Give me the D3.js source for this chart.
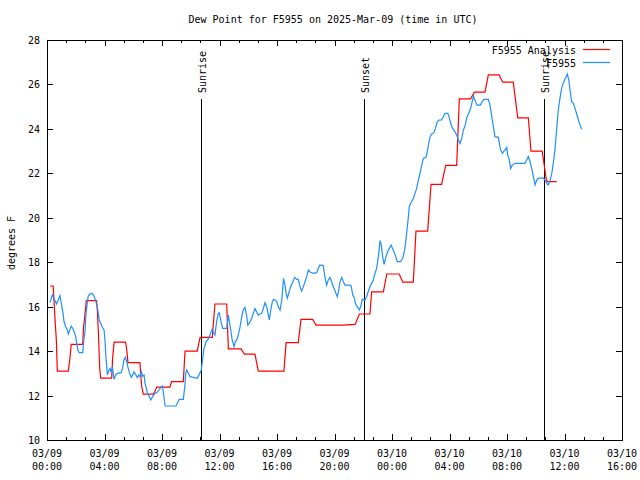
<!DOCTYPE html>
<html>
<head>
<meta charset="utf-8">
<script src="https://cdn.jsdelivr.net/npm/d3@7/dist/d3.min.js"></script>
<style>
  body { margin: 0; background: #fff; }
  svg text { font-family: "DejaVu Sans Mono", monospace; font-size: 10px; fill: #000; }
</style>
</head>
<body>
<svg id="chart" width="640" height="480"></svg>
<script>
// times are minutes since 2025-03-09 00:00 UTC
const startTime = Date.UTC(2025, 2, 9, 0, 0);
const endMinutes = 40 * 60;

const analysisMinutes = [13, 26, 33, 39, 43, 89, 96, 101, 149, 152, 157, 164, 207, 210, 214, 220, 224, 270, 274, 280,
  328, 333, 338, 388, 391, 395, 402, 444, 451, 458, 513, 520, 569, 576, 627, 639, 690, 701, 750, 757,
  810, 824, 868, 882, 989, 998, 1049, 1060, 1109, 1123, 1234, 1286, 1304, 1348, 1355, 1404, 1418, 1470, 1485, 1529,
  1540, 1589, 1603, 1647, 1664, 1710, 1721, 1768, 1784, 1828, 1842, 1887, 1902, 1946, 1965, 2009, 2020, 2067, 2083, 2088, 2127];
const analysisValues = [16.93, 16.93, 15.5, 14.5, 13.1, 13.1, 13.7, 14.3, 14.3, 15.0, 15.5, 16.27, 16.27, 15.85, 14.95, 13.25, 12.78, 12.78, 13.7, 14.4,
  14.4, 14.05, 13.48, 13.48, 13.0, 12.43, 12.06, 12.06, 12.2, 12.38, 12.38, 12.63, 12.63, 14.0, 14.0, 14.62, 14.62, 16.12, 16.12, 14.1,
  14.1, 13.86, 13.86, 13.1, 13.1, 14.38, 14.38, 15.43, 15.43, 15.17, 15.17, 15.2, 15.67, 15.67, 16.67, 16.67, 17.47, 17.47, 17.1, 17.1,
  19.4, 19.4, 21.5, 21.5, 22.36, 22.36, 25.35, 25.35, 25.65, 25.65, 26.43, 26.43, 26.1, 26.1, 24.5, 24.5, 23.0, 23.0, 21.78, 21.63, 21.63];

const obsMinutes = [13, 22, 26, 40, 47, 54, 57, 61, 67, 71, 78, 85, 89, 96, 101, 107, 113, 120, 124, 129,
  134, 149, 154, 159, 163, 168, 172, 179, 189, 196, 203, 210, 214, 218, 224, 231, 238, 242, 246, 252,
  259, 263, 267, 273, 280, 287, 293, 310, 316, 321, 327, 333, 338, 345, 352, 358, 363, 371, 377, 383,
  388, 394, 399, 405, 409, 413, 419, 426, 433, 441, 450, 460, 467, 475, 481, 485, 493, 538, 544, 552,
  569, 575, 579, 583, 590, 597, 627, 636, 644, 649, 655, 664, 673, 683, 689, 694, 701, 708, 715, 719,
  725, 733, 750, 757, 761, 767, 773, 781, 786, 792, 800, 806, 813, 819, 826, 834, 838, 844, 854, 861,
  868, 875, 882, 889, 896, 903, 910, 917, 924, 928, 934, 939, 945, 952, 959, 965, 973, 980, 987, 992,
  998, 1003, 1009, 1017, 1026, 1034, 1042, 1049, 1056, 1063, 1070, 1077, 1084, 1091, 1098, 1112, 1126, 1132, 1139, 1153,
  1160, 1167, 1174, 1181, 1188, 1198, 1206, 1212, 1218, 1223, 1230, 1237, 1244, 1265, 1270, 1276, 1283, 1287, 1295, 1304,
  1311, 1316, 1327, 1334, 1343, 1351, 1362, 1369, 1376, 1383, 1390, 1395, 1401, 1407, 1415, 1423, 1436, 1445, 1453, 1462,
  1476, 1485, 1494, 1501, 1507, 1512, 1518, 1529, 1536, 1543, 1550, 1557, 1564, 1571, 1582, 1587, 1592, 1599, 1606, 1615,
  1621, 1629, 1636, 1647, 1654, 1661, 1673, 1679, 1685, 1693, 1703, 1710, 1717, 1724, 1731, 1738, 1746, 1752, 1766, 1773,
  1780, 1786, 1795, 1809, 1816, 1824, 1842, 1849, 1856, 1863, 1870, 1884, 1892, 1901, 1907, 1912, 1919, 1923, 1930, 1935,
  1942, 1953, 1995, 2002, 2009, 2016, 2023, 2030, 2037, 2044, 2051, 2072, 2079, 2086, 2092, 2099, 2107, 2113, 2120, 2127,
  2134, 2141, 2148, 2155, 2162, 2172, 2178, 2183, 2190, 2197, 2204, 2211, 2218, 2225, 2232];
const obsValues = [16.18, 16.53, 16.45, 16.12, 16.3, 16.5, 16.3, 16.08, 15.7, 15.33, 15.1, 14.95, 14.77, 14.98, 15.13, 15.03, 14.88, 14.65, 14.35, 14.05,
  13.93, 13.93, 14.5, 14.95, 15.7, 16.15, 16.48, 16.57, 16.6, 16.48, 16.27, 16.0, 15.7, 15.4, 15.25, 15.07, 14.95, 14.5, 13.75, 12.93,
  13.15, 13.22, 13.07, 13.27, 12.73, 12.93, 13.0, 13.03, 13.27, 13.6, 13.72, 13.52, 13.27, 13.0, 12.82, 12.93, 13.07, 12.93, 12.8, 12.93,
  12.85, 13.07, 12.87, 12.93, 12.55, 12.4, 12.1, 11.98, 11.8, 11.95, 12.1, 12.15, 12.25, 12.37, 12.43, 12.2, 11.53, 11.53, 11.65, 11.83,
  11.83, 12.4, 13.0, 13.15, 13.0, 12.85, 12.78, 12.97, 13.15, 13.6, 14.1, 14.42, 14.55, 14.8, 14.98, 14.85, 14.73, 15.33, 15.7, 15.73,
  15.4, 15.02, 15.02, 15.62, 15.33, 14.95, 14.5, 14.2, 14.42, 14.5, 14.8, 15.1, 15.55, 15.85, 15.97, 15.55, 15.17, 15.25, 15.47, 15.7,
  15.92, 15.77, 15.62, 15.67, 15.7, 15.92, 16.18, 16.0, 15.62, 15.4, 15.85, 16.15, 16.33, 16.3, 16.23, 16.0, 15.85, 16.3, 17.27, 17.05,
  16.6, 16.38, 16.6, 16.9, 17.12, 17.32, 17.23, 17.23, 16.9, 16.7, 16.9, 17.12, 17.35, 17.65, 17.56, 17.5, 17.53, 17.72, 17.88, 17.85,
  17.35, 16.97, 17.2, 17.32, 17.12, 16.82, 16.6, 16.45, 16.75, 17.12, 17.32, 17.12, 16.97, 16.97, 16.92, 16.53, 16.38, 16.15, 16.0, 15.85,
  16.07, 16.33, 16.3, 16.45, 16.75, 16.97, 17.2, 17.5, 17.72, 18.25, 18.97, 18.77, 18.25, 17.9, 18.25, 18.5, 18.77, 18.55, 18.33, 18.03,
  18.03, 18.18, 18.62, 19.3, 19.9, 20.5, 20.65, 20.87, 21.1, 21.32, 21.7, 22.0, 22.37, 22.67, 22.72, 22.97, 23.27, 23.65, 23.77, 23.83,
  24.02, 24.32, 24.4, 24.4, 24.55, 24.7, 24.7, 24.52, 24.25, 24.02, 23.87, 23.72, 23.5, 23.35, 23.57, 23.95, 24.17, 24.5, 24.85, 25.15,
  25.47, 25.3, 25.07, 25.07, 25.22, 25.33, 25.33, 25.07, 24.6, 24.1, 23.65, 23.62, 23.1, 22.9, 23.0, 23.05, 23.17, 22.82, 22.6, 22.22,
  22.37, 22.45, 22.45, 22.6, 22.75, 22.52, 22.22, 21.85, 21.48, 21.7, 21.78, 21.78, 21.7, 21.55, 21.48, 21.63, 22.0, 22.45, 23.05, 23.95,
  24.85, 25.37, 25.82, 26.07, 26.23, 26.47, 26.2, 25.75, 25.22, 25.15, 24.92, 24.67, 24.4, 24.17, 23.98];

const sunLabels = ["Sunrise", "Sunset", "Sunrise"];
const sunMinutes = [643, 1323, 2074];

const seriesNames = ["F5955 Analysis", "F5955"];
const yTicks = [10, 12, 14, 16, 18, 20, 22, 24, 26, 28];

const titleText = "Dew Point for F5955 on 2025-Mar-09 (time in UTC)";
const yLabel = "degrees F";

const analysisColor = "#ff0000";
const obsColor = "#1e90ff";

const toDate = m => new Date(startTime + m * 60000);

const margin = { left: 47, right: 622, top: 40, bottom: 440 };
const svg = d3.select("#chart");

const x = d3.scaleUtc()
  .domain([toDate(0), toDate(endMinutes)])
  .range([margin.left, margin.right]);
const y = d3.scaleLinear()
  .domain([10, 28])
  .range([margin.bottom, margin.top]);

// title
svg.append("text")
  .attr("x", 333).attr("y", 23)
  .attr("text-anchor", "middle")
  .text(titleText);

// y label
svg.append("text")
  .attr("transform", "translate(15,243) rotate(-90)")
  .attr("text-anchor", "middle")
  .text(yLabel);

// ticks
const majorX = d3.range(0, endMinutes + 1, 240).map(toDate);
const minorX = d3.range(0, endMinutes + 1, 80).filter(m => m % 240 !== 0).map(toDate);

const tickG = svg.append("g").attr("stroke", "#000").attr("stroke-width", 1);
majorX.forEach(d => {
  const px = Math.round(x(d)) + 0.5;
  tickG.append("line").attr("x1", px).attr("x2", px).attr("y1", margin.bottom).attr("y2", margin.bottom - 6);
  tickG.append("line").attr("x1", px).attr("x2", px).attr("y1", margin.top).attr("y2", margin.top + 6);
});
minorX.forEach(d => {
  const px = Math.round(x(d)) + 0.5;
  tickG.append("line").attr("x1", px).attr("x2", px).attr("y1", margin.bottom).attr("y2", margin.bottom - 3);
  tickG.append("line").attr("x1", px).attr("x2", px).attr("y1", margin.top).attr("y2", margin.top + 3);
});
yTicks.forEach(v => {
  const py = Math.round(y(v)) + 0.5;
  tickG.append("line").attr("x1", margin.left).attr("x2", margin.left + 6).attr("y1", py).attr("y2", py);
  tickG.append("line").attr("x1", margin.right).attr("x2", margin.right - 6).attr("y1", py).attr("y2", py);
});

// tick labels
svg.append("g").selectAll("text")
  .data(yTicks)
  .join("text")
  .attr("x", 40)
  .attr("y", d => y(d) + 4)
  .attr("text-anchor", "end")
  .text(d => d);

const fmtDay = d3.utcFormat("%m/%d");
const fmtTime = d3.utcFormat("%H:%M");
const xl = svg.append("g").selectAll("text")
  .data(majorX)
  .join("text")
  .attr("text-anchor", "middle");
xl.append("tspan").attr("x", d => x(d)).attr("y", 457).text(d => fmtDay(d));
xl.append("tspan").attr("x", d => x(d)).attr("y", 470).text(d => fmtTime(d));

// frame
svg.append("rect")
  .attr("x", margin.left + 0.5).attr("y", margin.top + 0.5)
  .attr("width", margin.right - margin.left).attr("height", margin.bottom - margin.top)
  .attr("fill", "none").attr("stroke", "#000");

// sunrise / sunset markers
const sun = svg.append("g").selectAll("g")
  .data(sunMinutes.map((m, i) => ({ t: toDate(m), label: sunLabels[i] })))
  .join("g");
sun.append("line")
  .attr("x1", d => Math.round(x(d.t)) + 0.5).attr("x2", d => Math.round(x(d.t)) + 0.5)
  .attr("y1", 99).attr("y2", margin.bottom)
  .attr("stroke", "#000");
sun.append("text")
  .attr("transform", d => `translate(${Math.round(x(d.t)) + 4.5},93) rotate(-90)`)
  .text(d => d.label);

// series
const analysis = analysisMinutes.map((m, i) => ({ t: toDate(m), v: analysisValues[i] }));
const obs = obsMinutes.map((m, i) => ({ t: toDate(m), v: obsValues[i] }));

const line = d3.line().x(d => x(d.t)).y(d => y(d.v));

svg.append("path").datum(analysis)
  .attr("d", line).attr("fill", "none")
  .attr("stroke", analysisColor).attr("stroke-width", 1.2);
svg.append("path").datum(obs)
  .attr("d", line).attr("fill", "none")
  .attr("stroke", obsColor).attr("stroke-width", 1.2);

// legend
const legend = svg.append("g").selectAll("g")
  .data(seriesNames.map((n, i) => ({ name: n, color: [analysisColor, obsColor][i], row: i })))
  .join("g");
legend.append("text")
  .attr("x", 576).attr("y", d => 54 + d.row * 13)
  .attr("text-anchor", "end")
  .text(d => d.name);
legend.append("line")
  .attr("x1", 583).attr("x2", 610)
  .attr("y1", d => 49.5 + d.row * 13).attr("y2", d => 49.5 + d.row * 13)
  .attr("stroke", d => d.color).attr("stroke-width", 1.2);
</script>
</body>
</html>
